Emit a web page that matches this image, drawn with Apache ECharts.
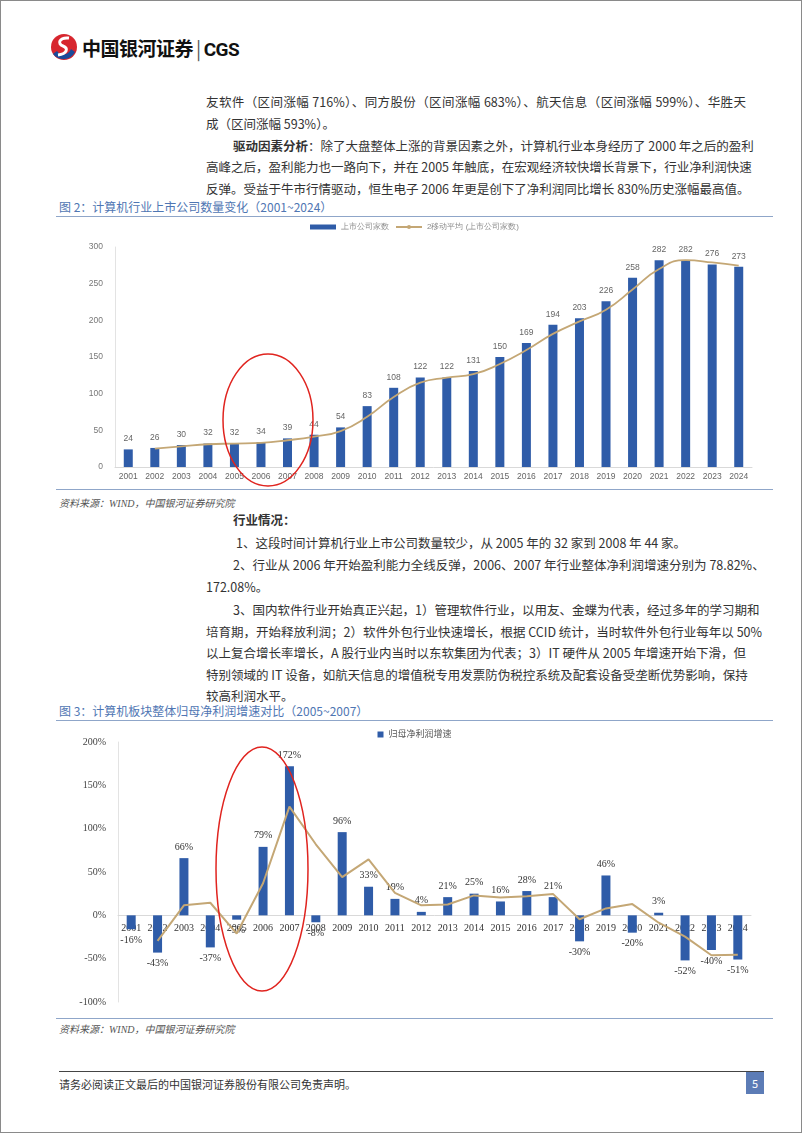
<!DOCTYPE html>
<html>
<head>
<meta charset="utf-8">
<script src="https://cdn.jsdelivr.net/npm/echarts@6/dist/echarts.min.js"></script>
<style>
  body { margin: 0; background: #fff; font-family: "Noto Sans CJK SC", sans-serif; }
  .page { position: relative; width: 800px; height: 1131px; border: 1px solid #8a8a8a; overflow: hidden; }
  .ln { position: absolute; left: 205px; width: 540px; height: 21px; line-height: 21px; font-size: 12.5px; color: #333; white-space: nowrap; }
  .j { text-align: justify; text-align-last: justify; }
  .cap { position: absolute; left: 58px; font-size: 12px; color: #4f76b3; }
  .sep { position: absolute; left: 55px; width: 717px; height: 0; border-top: 1.5px solid #8fa6c9; }
  .src { position: absolute; left: 58px; font-size: 10px; color: #555; font-style: italic; font-family: "Liberation Serif", "Noto Sans CJK SC", serif; }
  .chart { position: absolute; left: 55px; width: 717px; }
</style>
</head>
<body>
<div class="page">
  <!-- logo -->
  <svg style="position:absolute;left:48px;top:31px" width="30" height="30" viewBox="0 0 30 30">
    <circle cx="15" cy="15" r="13" fill="#d7262e"/>
    <path d="M4 22 A13 13 0 0 0 26 20 L22 17 A8 8 0 0 1 8 19 Z" fill="#1b4b9a"/>
    <path d="M20 6 C10 5 8 12 14 14 C20 16 18 22 9 23" stroke="#fff" stroke-width="3" fill="none"/>
  </svg>
  <div style="position:absolute;left:81px;top:33px;font-size:19px;font-weight:bold;color:#111;letter-spacing:-0.5px">中国银河证券<span style="font-weight:normal;color:#555;margin:0 3px">|</span><span style="font-family:Roboto,sans-serif">CGS</span></div>

  <!-- paragraph 1 -->
  <div class="ln j" style="top:90px">友软件（区间涨幅 716%）、同方股份（区间涨幅 683%）、航天信息（区间涨幅 599%）、华胜天</div>
  <div class="ln" style="top:112px">成（区间涨幅 593%）。</div>
  <div class="ln j" style="top:134px;left:232px;width:513px"><b>驱动因素分析</b>：除了大盘整体上涨的背景因素之外，计算机行业本身经历了 2000 年之后的盈利</div>
  <div class="ln j" style="top:155px">高峰之后，盈利能力也一路向下，并在 2005 年触底，在宏观经济较快增长背景下，行业净利润快速</div>
  <div class="ln j" style="top:177px">反弹。受益于牛市行情驱动，恒生电子 2006 年更是创下了净利润同比增长 830%历史涨幅最高值。</div>

  <div class="cap" style="top:197px">图 2：计算机行业上市公司数量变化（2001~2024）</div>
  <div class="sep" style="top:215px"></div>
  <div id="c1" class="chart" style="top:217px;height:270px"></div>
  <div class="sep" style="top:488px"></div>
  <div class="src" style="top:494px">资料来源：WIND，中国银河证券研究院</div>

  <!-- paragraph 2 -->
  <div class="ln" style="top:508px;left:232px"><b>行业情况：</b></div>
  <div class="ln" style="top:531px;left:235px">1、这段时间计算机行业上市公司数量较少，从 2005 年的 32 家到 2008 年 44 家。</div>
  <div class="ln j" style="top:553px;left:232px;width:513px">2、行业从 2006 年开始盈利能力全线反弹，2006、2007 年行业整体净利润增速分别为 78.82%、</div>
  <div class="ln" style="top:575px">172.08%。</div>
  <div class="ln j" style="top:598px;left:232px;width:513px">3、国内软件行业开始真正兴起，1）管理软件行业，以用友、金蝶为代表，经过多年的学习期和</div>
  <div class="ln j" style="top:620px">培育期，开始释放利润；2）软件外包行业快速增长，根据 CCID 统计，当时软件外包行业每年以 50%</div>
  <div class="ln j" style="top:641px">以上复合增长率增长，A 股行业内当时以东软集团为代表；3）IT 硬件从 2005 年增速开始下滑，但</div>
  <div class="ln j" style="top:663px">特别领域的 IT 设备，如航天信息的增值税专用发票防伪税控系统及配套设备受垄断优势影响，保持</div>
  <div class="ln" style="top:684px">较高利润水平。</div>

  <div class="cap" style="top:701px">图 3：计算机板块整体归母净利润增速对比（2005~2007）</div>
  <div class="sep" style="top:719px"></div>
  <div id="c2" class="chart" style="top:721px;height:296px"></div>
  <div class="sep" style="top:1017px"></div>
  <div class="src" style="top:1020px">资料来源：WIND，中国银河证券研究院</div>

  <!-- footer -->
  <div style="position:absolute;left:58px;top:1070px;width:705px;border-top:1.5px solid #444"></div>
  <div style="position:absolute;left:58px;top:1075px;font-size:11px;color:#333">请务必阅读正文最后的中国银河证券股份有限公司免责声明。</div>
  <div style="position:absolute;left:745px;top:1071px;width:18px;height:22px;background:#5c7cb6;color:#fff;font-size:11px;line-height:22px;text-align:center">5</div>
</div>

<script>
// 图2 数据
const years = ['2001', '2002', '2003', '2004', '2005', '2006', '2007', '2008', '2009', '2010', '2011', '2012',
  '2013', '2014', '2015', '2016', '2017', '2018', '2019', '2020', '2021', '2022', '2023', '2024']
const companyCount = [24, 26, 30, 32, 32, 34, 39, 44, 54, 83, 108, 122, 122, 131, 150, 169, 194, 203, 226, 258, 282, 282, 276, 273]
const countAvg2 = [null, 25, 28, 31, 32, 33, 36.5, 41.5, 49, 68.5, 95.5, 115, 122, 126.5, 140.5, 159.5, 181.5, 198.5, 214.5, 242, 270, 282, 279, 274.5]

// 图3 数据
const profitGrowth = [-16, -43, 66, -37, -5, 79, 172, -8, 96, 33, 19, 4, 21, 25, 16, 28, 21, -30, 46, -20, 3, -52, -40, -51]
const growthAvg2 = [null, -29.5, 11.5, 14.5, -21, 37, 125.5, 82, 44, 64.5, 26, 11.5, 12.5, 23, 20.5, 22, 24.5, -4.5, 8, 13, -8.5, -24.5, -46, -45.5]

const barColor = '#2f5ca8'
const lineColor = '#c4a775'
const serif = '"Liberation Serif", "Noto Sans CJK SC", serif'

// 上市公司数量
let chart1 = echarts.init(document.getElementById('c1'))
chart1.setOption({
  animation: false,
  legend: {
    top: 0,
    left: 'center',
    itemGap: 6,
    textStyle: {fontSize: 8, color: '#8c8c8c'},
    data: [
      {name: '上市公司家数', icon: 'rect', itemStyle: {color: barColor}},
      {name: '2移动平均 (上市公司家数)'}
    ],
    itemWidth: 26,
    itemHeight: 5
  },
  grid: {left: 59, right: 21, top: 29, bottom: 21},
  xAxis: {
    type: 'category',
    data: years,
    axisLine: {lineStyle: {color: '#d9d9d9'}},
    axisTick: {show: false},
    axisLabel: {fontSize: 8.5, color: '#666', margin: 5, interval: 0}
  },
  yAxis: {
    type: 'value',
    min: 0,
    max: 300,
    interval: 50,
    axisLine: {show: true, lineStyle: {color: '#e3e3e3'}},
    splitLine: {show: false},
    axisLabel: {fontSize: 8.5, color: '#777', margin: 12}
  },
  series: [
    {
      name: '上市公司家数',
      type: 'bar',
      data: companyCount,
      barWidth: 9,
      itemStyle: {color: barColor},
      label: {show: true, position: 'top', distance: 6, fontSize: 8.5, color: '#666'}
    },
    {
      name: '2移动平均 (上市公司家数)',
      type: 'line',
      data: countAvg2,
      smooth: true,
      symbol: 'none',
      lineStyle: {color: lineColor, width: 1.8},
      itemStyle: {color: lineColor}
    }
  ],
  graphic: [{
    type: 'ellipse',
    shape: {cx: 212, cy: 202, rx: 45, ry: 66},
    style: {fill: 'none', stroke: '#e0241f', lineWidth: 1.5},
    z: 100
  }]
})

// 归母净利润增速
let chart2 = echarts.init(document.getElementById('c2'))
chart2.setOption({
  animation: false,
  legend: {
    top: 3,
    left: 'center',
    data: [{name: '归母净利润增速', icon: 'rect'}],
    itemWidth: 6,
    itemHeight: 6,
    itemGap: 4,
    textStyle: {fontSize: 9, color: '#555', fontFamily: serif}
  },
  grid: {left: 62, right: 22, top: 20, bottom: 16},
  xAxis: {
    type: 'category',
    data: years,
    position: 'bottom',
    offset: -260 / 3,
    axisLine: {onZero: false, lineStyle: {color: '#d9d9d9'}},
    axisTick: {show: false},
    axisLabel: {fontSize: 10, color: '#333', margin: 8, interval: 0, fontFamily: serif}
  },
  yAxis: {
    type: 'value',
    min: -100,
    max: 200,
    interval: 50,
    axisLine: {show: true, lineStyle: {color: '#e3e3e3'}},
    splitLine: {show: false},
    axisLabel: {fontSize: 10, color: '#444', margin: 12, formatter: '{value}%', fontFamily: serif}
  },
  series: [
    {
      name: '归母净利润增速',
      type: 'bar',
      barWidth: 9,
      data: profitGrowth.map(v => ({value: v, label: {position: v < 0 ? 'bottom' : 'top'}})),
      itemStyle: {color: barColor},
      label: {show: true, distance: 6, fontSize: 10, color: '#333', formatter: '{c}%', fontFamily: serif}
    },
    {
      name: '2移动平均',
      type: 'line',
      data: growthAvg2,
      symbol: 'none',
      lineStyle: {color: lineColor, width: 2},
      itemStyle: {color: lineColor}
    }
  ],
  graphic: [{
    type: 'ellipse',
    shape: {cx: 206, cy: 147, rx: 46, ry: 122},
    style: {fill: 'none', stroke: '#e0241f', lineWidth: 1.5},
    z: 100
  }]
})
</script>
</body>
</html>
